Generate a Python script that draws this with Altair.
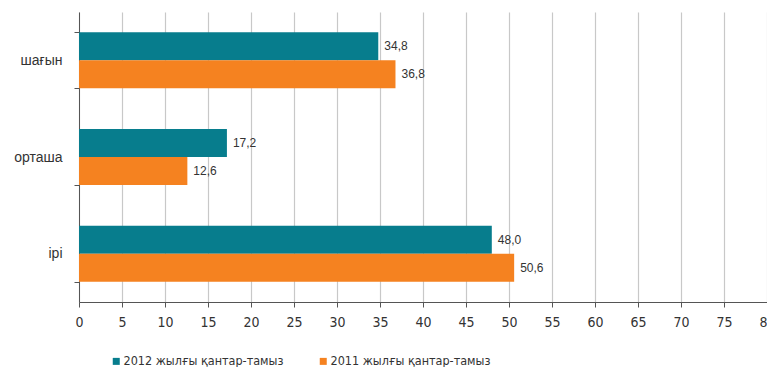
import altair as alt
import pandas as pd

categories = ["шағын", "орташа", "ірі"]
series = ["2012 жылғы қантар-тамыз", "2011 жылғы қантар-тамыз"]
values_2012 = [34.8, 17.2, 48.0]
values_2011 = [36.8, 12.6, 50.6]
colors = ["#077d8d", "#f58220"]
x_ticks = list(range(0, 81, 5))

rows = []
for c, v in zip(categories, values_2012):
    rows.append({"cat": c, "series": series[0], "value": v})
for c, v in zip(categories, values_2011):
    rows.append({"cat": c, "series": series[1], "value": v})
df = pd.DataFrame(rows)
df["label"] = df["value"].map(lambda v: f"{v:.1f}".replace(".", ","))

narrow = "'Liberation Sans Narrow', 'DejaVu Sans Condensed', 'Roboto Condensed', Roboto, sans-serif"
regular = "'Liberation Sans', Arial, sans-serif"

base = alt.Chart(df).encode(
    y=alt.Y(
        "cat:N",
        sort=categories,
        title=None,
        scale=alt.Scale(paddingInner=0.42, paddingOuter=0.21),
        axis=alt.Axis(
            tickBand="extent",
            tickSize=5,
            tickColor="#555555",
            domainColor="#555555",
            labelFont=regular,
            labelFontSize=14,
            labelColor="#333333",
            labelPadding=12,
            grid=False,
        ),
    ),
    yOffset=alt.YOffset("series:N", sort=series),
    x=alt.X(
        "value:Q",
        title=None,
        scale=alt.Scale(domain=[0, 80], nice=False),
        axis=alt.Axis(
            values=x_ticks,
            grid=True,
            gridColor="#c8c8c8",
            gridWidth=1.2,
            tickSize=5,
            tickColor="#555555",
            domainColor="#555555",
            labelFont=narrow,
            labelFontSize=14,
            labelColor="#333333",
            labelPadding=8,
            labelBaseline="top",
            labelFlush=False,
        ),
    ),
)

bars = base.mark_bar().encode(
    color=alt.Color(
        "series:N",
        sort=series,
        scale=alt.Scale(domain=series, range=colors),
        legend=alt.Legend(
            title=None,
            orient="none",
            legendX=31,
            legendY=343,
            direction="horizontal",
            symbolType="square",
            symbolSize=49,
            symbolStrokeWidth=0,
            labelFont=narrow,
            labelFontSize=12.5,
            labelColor="#333333",
            labelOffset=1,
            columnPadding=33,
            gridAlign="all",
            labelLimit=300,
        ),
    )
)

text = base.mark_text(
    align="left", baseline="middle", dx=6, font=regular, fontSize=12, color="#333333"
).encode(text="label:N")

chart = (
    (bars + text)
    .properties(
        width=688,
        height=290,
        autosize=alt.AutoSizeParams(type="none"),
        padding={"left": 71, "top": 4, "right": 0, "bottom": 70},
    )
    .configure_view(stroke=None)
)

chart.save("out.html", embed_options={"renderer": "svg", "actions": False})
